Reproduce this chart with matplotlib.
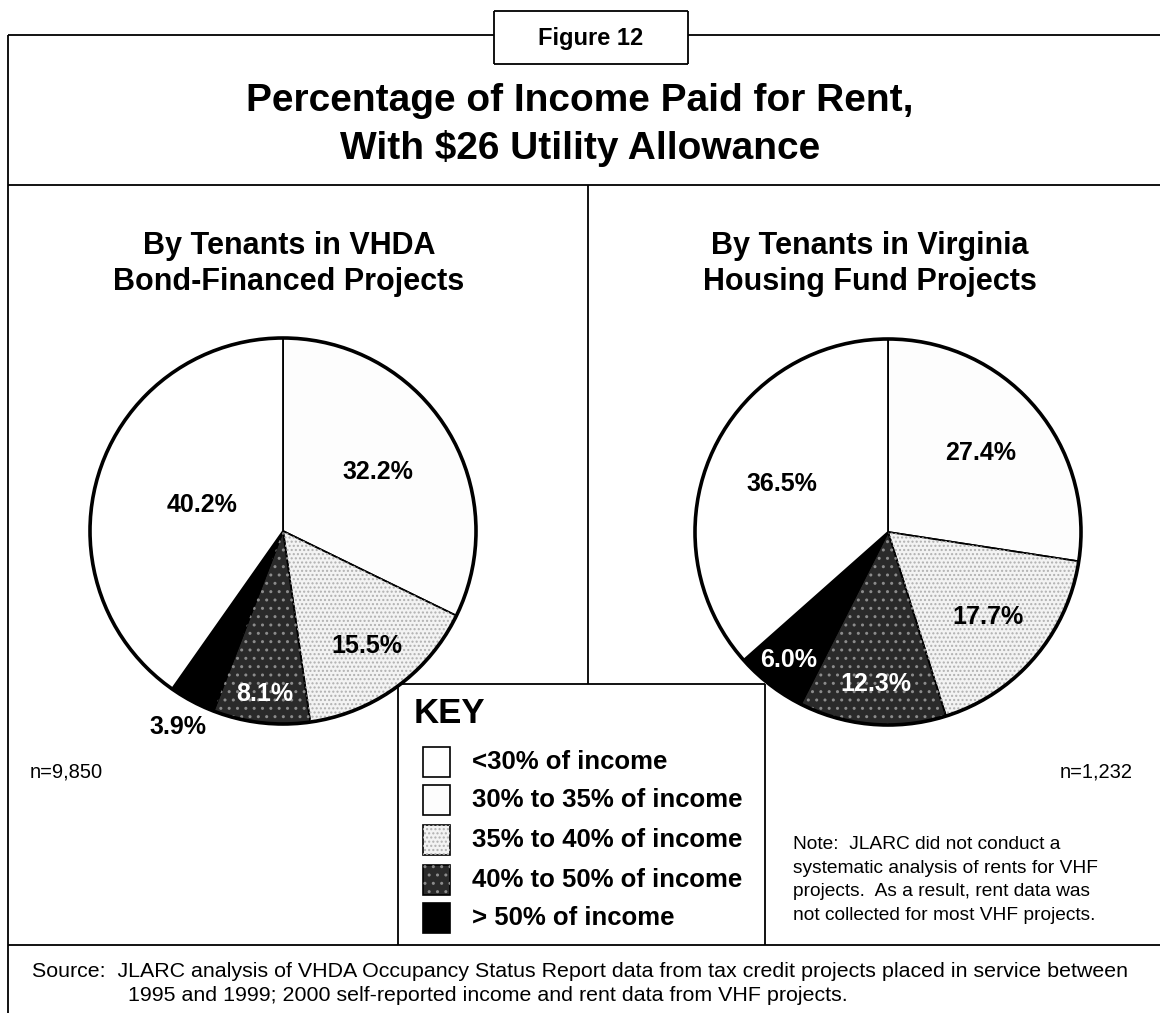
import numpy as np
import matplotlib
matplotlib.use('Agg')
import matplotlib.pyplot as plt
from matplotlib.patches import Rectangle, Circle, Wedge

plt.rcParams['font.family'] = ['Liberation Sans', 'DejaVu Sans']

# data
categories = ['<30% of income', '30% to 35% of income', '35% to 40% of income',
              '40% to 50% of income', '> 50% of income']
vhda_values = [40.2, 32.2, 15.5, 8.1, 3.9]
vhf_values = [36.5, 27.4, 17.7, 12.3, 6.0]
vhda_n = 'n=9,850'
vhf_n = 'n=1,232'
# slice order clockwise from 12 o'clock
pie_order = [1, 2, 3, 4, 0]

# styles
fills = ['white', '#fdfdfd', '#f3f3f3', '#2a2a2a', 'black']
hatches = [None, None, '....', '..', None]
hatch_cols = [None, None, '#b0b0b0', '#8c8c8c', None]
label_cols = ['black', 'black', 'black', 'white', 'white']

W, H = 1160, 1013
fig = plt.figure(figsize=(W / 100, H / 100), dpi=100)
ax = fig.add_axes([0, 0, 1, 1])


def Y(y):
    return H - y


def line(x0, y0, x1, y1, lw=1.3):
    ax.plot([x0, x1], [Y(y0), Y(y1)], color='black', lw=lw, zorder=1,
            solid_capstyle='butt')


def draw_pie(cx, cy, vals, dists, r=193):
    v = [vals[i] for i in pie_order]
    wedges, _ = ax.pie(v, colors=[fills[i] for i in pie_order], startangle=90,
                       counterclock=False, center=(cx, Y(cy)), radius=r,
                       wedgeprops=dict(edgecolor='black', linewidth=1.3),
                       frame=True)
    for w, i, d in zip(wedges, pie_order, dists):
        if hatches[i]:
            ax.add_patch(Wedge(w.center, w.r, w.theta1, w.theta2, facecolor='none',
                               edgecolor=hatch_cols[i], hatch=hatches[i], linewidth=0))
        mid = np.deg2rad((w.theta1 + w.theta2) / 2)
        ax.text(w.center[0] + d * w.r * np.cos(mid), w.center[1] + d * w.r * np.sin(mid),
                f'{vals[i]:.1f}%', ha='center', va='center', fontsize=18,
                fontweight='bold', color=label_cols[i] if d < 1 else 'black', zorder=5)
    ax.add_patch(Circle((cx, Y(cy)), r, fill=False, lw=2.6, zorder=4))


# frame
line(8, 35, 8, H)
line(8, 35, 494, 35)
line(688, 35, W, 35)
line(494, 11, 688, 11)
line(494, 64, 688, 64)
line(494, 11, 494, 64)
line(688, 11, 688, 64)
line(8, 185, W, 185)
line(588, 185, 588, 684)
line(398, 684, 765, 684)
line(398, 684, 398, 945)
line(765, 684, 765, 945)
line(8, 945, W, 945)

ax.text(591, Y(38), 'Figure 12', ha='center', va='center', fontsize=17, fontweight='bold')
ax.text(580, Y(125), 'Percentage of Income Paid for Rent,\nWith $26 Utility Allowance',
        ha='center', va='center', fontsize=28, fontweight='bold', linespacing=1.38)
ax.text(289, Y(264), 'By Tenants in VHDA\nBond-Financed Projects',
        ha='center', va='center', fontsize=22, fontweight='bold', linespacing=1.3)
ax.text(870, Y(264), 'By Tenants in Virginia\nHousing Fund Projects',
        ha='center', va='center', fontsize=22, fontweight='bold', linespacing=1.3)

draw_pie(283, 531, vhda_values, [0.58, 0.74, 0.85, 1.15, 0.44])
draw_pie(888, 532, vhf_values, [0.63, 0.68, 0.79, 0.84, 0.60])

ax.text(30, Y(772), vhda_n, ha='left', va='center', fontsize=14.5)
ax.text(1133, Y(772), vhf_n, ha='right', va='center', fontsize=14.5)

# key
ax.text(414, Y(713), 'KEY', ha='left', va='center', fontsize=25, fontweight='bold')
key_y = [762, 800, 840, 880, 918]
for i, ky in enumerate(key_y):
    ax.add_patch(Rectangle((423, Y(ky) - 15), 27, 30, facecolor=fills[i],
                           edgecolor='black', lw=1.2, zorder=3))
    if hatches[i]:
        ax.add_patch(Rectangle((423, Y(ky) - 15), 27, 30, facecolor='none',
                               edgecolor=hatch_cols[i], hatch=hatches[i], lw=0, zorder=3))
    ax.text(472, Y(ky), categories[i], ha='left', va='center', fontsize=18.5, fontweight='bold')

ax.text(793, Y(880), 'Note:  JLARC did not conduct a\nsystematic analysis of rents for VHF\n'
        'projects.  As a result, rent data was\nnot collected for most VHF projects.',
        ha='left', va='center', fontsize=13.8, linespacing=1.5)

ax.text(32, Y(971), 'Source:  JLARC analysis of VHDA Occupancy Status Report data from tax '
        'credit projects placed in service between', ha='left', va='center', fontsize=15.4)
ax.text(128, Y(995), '1995 and 1999; 2000 self-reported income and rent data from VHF projects.',
        ha='left', va='center', fontsize=15.4)

ax.set_xlim(0, W)
ax.set_ylim(0, H)
ax.set_aspect('auto')
ax.axis('off')

fig.savefig('out.png', dpi=100)
